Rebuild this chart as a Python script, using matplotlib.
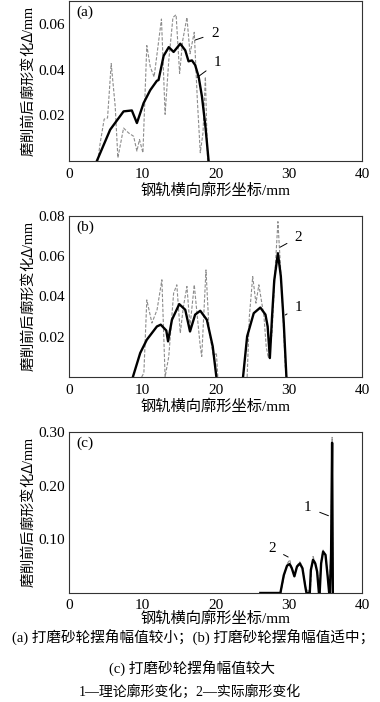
import matplotlib
matplotlib.use("Agg")
import matplotlib.pyplot as plt

plt.rcParams['font.family'] = ['Liberation Serif', 'Noto Sans CJK SC']
plt.rcParams['mathtext.fontset'] = 'custom'
plt.rcParams['mathtext.it'] = 'Liberation Serif:italic'
plt.rcParams['mathtext.rm'] = 'Noto Sans CJK SC'

# (a) small swing amplitude
a_x1 = [3.78, 5.6, 7.43, 8.56, 9.25, 10.16, 11.07, 11.98, 12.2, 12.9, 13.6, 14.26,
        15.17, 15.85, 16.3, 16.76, 17.2, 17.68, 18.13, 18.6, 19.04]
a_y1 = [0, 0.0137, 0.0217, 0.0221, 0.0166, 0.0253, 0.031, 0.0351, 0.0354, 0.046, 0.0498,
        0.0477, 0.0513, 0.0484, 0.0436, 0.044, 0.042, 0.0368, 0.0282, 0.0152, 0]
a_x2 = [3.9, 4.24, 4.78, 5.24, 5.74, 6.29, 6.65, 7.43, 8.1, 8.8, 9.25, 9.6, 10.07, 10.6,
        11.07, 11.6, 12.0, 12.6, 13.1, 13.6, 14.17, 14.6, 15.08, 15.5, 16.08, 16.5, 17.08,
        17.5, 17.9, 18.27, 18.6, 18.9]
a_y2 = [0, 0.0079, 0.0183, 0.0188, 0.0426, 0.0237, 0.0014, 0.0144, 0.0123, 0.0108, 0.0043,
        0.0094, 0.0036, 0.0505, 0.0412, 0.0368, 0.0469, 0.0621, 0.0204, 0.044, 0.0628, 0.064,
        0.0383, 0.0527, 0.0628, 0.0469, 0.0563, 0.0267, 0.0036, 0.0123, 0.0368, 0]

# (b) medium swing amplitude
b_x1 = [8.7, 9.7, 10.6, 11.98, 12.5, 13.26, 13.5, 14.03, 15.03, 15.85, 16.5, 17.2, 17.9,
        18.8, 19.6, 20.1]
b_y1 = [0, 0.0119, 0.0185, 0.0251, 0.026, 0.0231, 0.0177, 0.0284, 0.0362, 0.0334, 0.0226,
        0.031, 0.0329, 0.0284, 0.0152, 0]
b_x1b = [23.74, 24.3, 25.2, 26.1, 26.8, 27.1, 27.4, 27.7, 28.0, 28.5, 28.9, 29.3, 29.66]
b_y1b = [0, 0.0202, 0.0317, 0.0345, 0.031, 0.0251, 0.0094, 0.03, 0.048, 0.0615, 0.05,
         0.0268, 0]
b_x2 = [9.9, 10.2, 10.6, 11.3, 12.0, 12.66, 13.1, 13.6, 14.26, 14.7, 15.17, 15.6, 16.08,
        16.5, 17.08, 17.45, 17.9, 18.1, 18.68, 19.1, 19.7, 20.1, 20.3]
b_y2 = [0, 0.002, 0.0383, 0.0268, 0.0334, 0.0483, 0, 0.0102, 0.0416, 0.0458, 0.0218, 0.035,
        0.045, 0.0251, 0.0458, 0.0317, 0.0152, 0.0102, 0.0532, 0.0234, 0.0102, 0.012, 0]
b_x2b = [24.3, 24.6, 25.06, 25.5, 25.9, 26.6, 26.9, 27.2, 27.7, 28.15, 28.5, 28.85, 29.2,
         29.5, 29.7]
b_y2b = [0, 0.03, 0.0499, 0.0367, 0.0458, 0.03, 0.0152, 0.0094, 0.0218, 0.055, 0.0772,
         0.055, 0.03, 0.0053, 0]

# (c) large swing amplitude
c_x1 = [26.1, 28.84, 29.3, 29.75, 30.1, 30.4, 30.75, 31.1, 31.5, 31.85, 32.25, 32.4, 32.85,
        33.0, 33.3, 33.6, 33.85, 34.1, 34.2, 34.4, 34.67, 35.0, 35.3, 35.5, 35.6, 35.76,
        35.9, 36.0]
c_y1 = [0, 0, 0.033, 0.051, 0.054, 0.046, 0.031, 0.049, 0.055, 0.046, 0.011, 0, 0,
        0.043, 0.062, 0.055, 0.04, 0, 0, 0.055, 0.077, 0.071, 0.03, 0, 0, 0.074, 0.28, 0]
c_x2 = [28.9, 29.4, 29.8, 30.1, 30.4, 30.75, 31.1, 31.5, 31.9, 32.3, 32.9, 33.1, 33.3,
        33.6, 33.9, 34.1, 34.4, 34.67, 35.0, 35.3, 35.5, 35.75, 35.9, 36.0]
c_y2 = [0, 0.036, 0.055, 0.062, 0.048, 0.033, 0.051, 0.058, 0.046, 0.01, 0, 0.046, 0.068,
        0.056, 0.04, 0, 0.058, 0.08, 0.07, 0.03, 0, 0.078, 0.29, 0]

panels = [
    ('(a)', [(a_x1, a_y1)], [(a_x2, a_y2)], 0.07, [0.02, 0.04, 0.06],
     (17.2, 0.0529, 19.9, 0.0559), (17.5, 0.0366, 20.2, 0.043)),
    ('(b)', [(b_x1, b_y1), (b_x1b, b_y1b)], [(b_x2, b_y2), (b_x2b, b_y2b)], 0.08,
     [0.02, 0.04, 0.06, 0.08],
     (28.8, 0.0645, 31.3, 0.0695), (29.5, 0.0308, 31.3, 0.0347)),
    ('(c)', [(c_x1, c_y1)], [(c_x2, c_y2)], 0.30, [0.10, 0.20, 0.30],
     (29.9, 0.067, 27.7, 0.083), (35.4, 0.144, 32.6, 0.159)),
]
boxes = [[0.182, 0.7707, 0.771, 0.2279],
         [0.182, 0.4630, 0.771, 0.2293],
         [0.182, 0.1553, 0.771, 0.2293]]

fig = plt.figure(figsize=(3.8, 7.02), dpi=100)

for i, (box, (tag, th, ac, ytop, yt, ann2, ann1)) in enumerate(zip(boxes, panels)):
    ax = fig.add_axes(box)
    for x, y in ac:
        ax.plot(x, y, color='#8c8c8c', lw=0.8, ls=(0, (3, 1.5)), zorder=2)
    for x, y in th:
        ax.plot(x, y, color='black', lw=1.7, zorder=3)
    ax.set_xlim(0, 40)
    ax.set_ylim(0, ytop)
    ax.set_xticks([0, 10, 20, 30, 40])
    ax.set_yticks(yt)
    ax.set_yticklabels(['%.2f' % v for v in yt])
    ax.tick_params(direction='in', length=0, labelsize=11)
    ax.tick_params(axis='x', pad=5 if i < 2 else 4)
    ax.tick_params(axis='y', pad=3)
    for s in ax.spines.values():
        s.set_linewidth(0.8)
        s.set_color('#333333')
    ax.text(0.025, 0.97, tag, transform=ax.transAxes, va='top', ha='left', fontsize=11)
    ax.set_xlabel('钢轨横向廓形坐标/mm', fontsize=11, labelpad=2 if i < 2 else 0)
    ax.set_ylabel('$\\mathrm{磨削前后廓形变化}\\mathit{\\Delta}$/mm', fontsize=10.3,
                  labelpad=2)
    ax.annotate('2', xy=ann2[:2], xytext=ann2[2:], fontsize=11, va='center', ha='center',
                arrowprops=dict(arrowstyle='-', lw=0.7, color='black', shrinkA=4, shrinkB=0))
    ax.annotate('1', xy=ann1[:2], xytext=ann1[2:], fontsize=11, va='center', ha='center',
                arrowprops=dict(arrowstyle='-', lw=0.7, color='black', shrinkA=4, shrinkB=0))

fig.text(0.509, 1 - 637 / 702, '(a) 打磨砂轮摆角幅值较小；(b) 打磨砂轮摆角幅值适中；',
         ha='center', va='center', fontsize=10.5)
fig.text(0.505, 1 - 668 / 702, '(c) 打磨砂轮摆角幅值较大', ha='center', va='center',
         fontsize=10.5)
fig.text(0.5, 1 - 692 / 702, '1—理论廓形变化；2—实际廓形变化', ha='center', va='center',
         fontsize=10)

fig.savefig('out.png', dpi=100)
